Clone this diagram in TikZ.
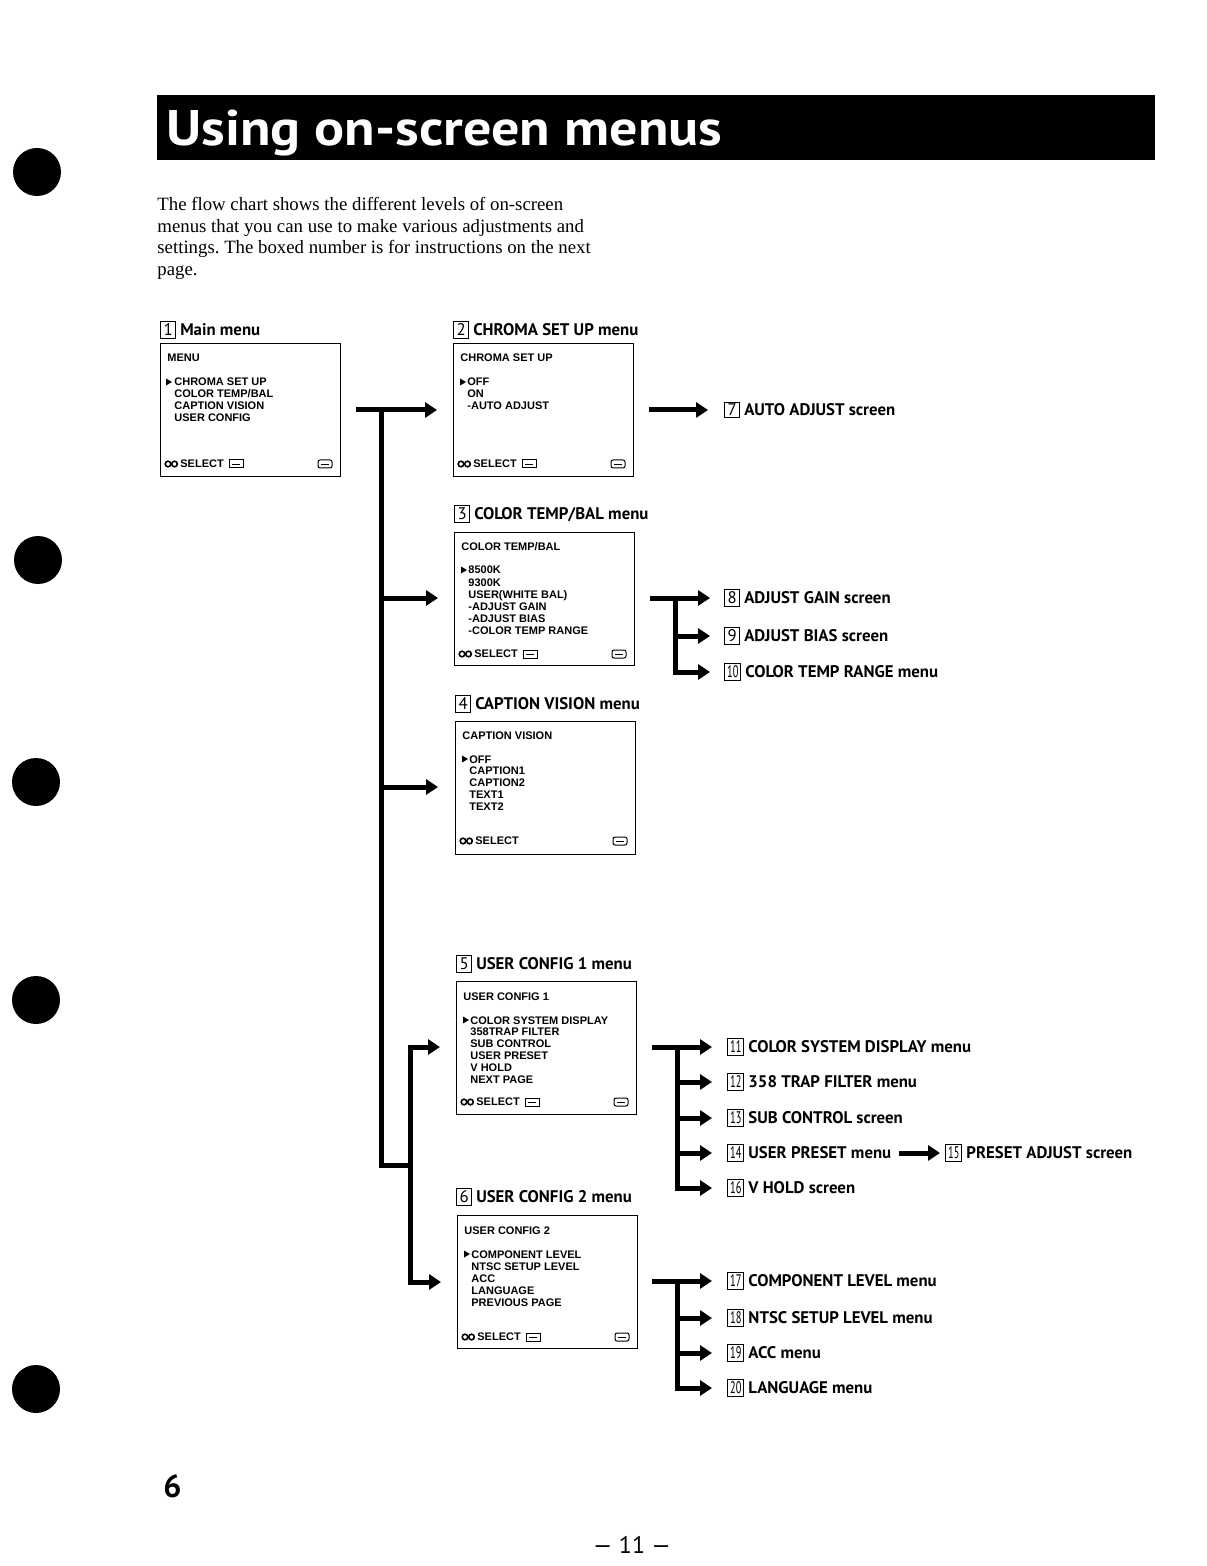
\documentclass[tikz,border=0pt]{standalone}
\usepackage{fontspec}
\usepackage{graphicx}
\setmainfont{Liberation Serif}
\newfontfamily\ptsans{PT Sans}
\newfontfamily\osdfont{Liberation Sans}
\usetikzlibrary{arrows.meta}
\newcommand{\bnum}[1]{{\setlength{\fboxsep}{0.8pt}\setlength{\fboxrule}{0.5pt}\fbox{\makebox[5.2pt][c]{\mdseries #1}}}}
\newcommand{\bnumw}[1]{{\setlength{\fboxsep}{0.8pt}\setlength{\fboxrule}{0.5pt}\fbox{\makebox[5.8pt][c]{\mdseries\scalebox{0.62}[1]{#1}}}}}
\begin{document}
\frenchspacing
\begin{tikzpicture}[x=0.5pt,y=-0.5pt,
  arr/.style={line width=2.5pt,-{Triangle[length=6pt,width=7.5pt]},line join=miter},
  trunk/.style={line width=2.5pt,line join=miter},
  lab/.style={inner sep=0pt,anchor=west,font=\ptsans\bfseries\fontsize{8.4}{9}\selectfont},
  menubox/.style={draw,line width=0.7pt,anchor=north west,minimum width=90pt,minimum height=66.5pt,inner sep=0pt},
  osd/.style={inner sep=0pt,anchor=base west,font=\osdfont\bfseries\fontsize{5.5}{6}\selectfont},
  icon/.style={line width=0.5pt}]
\fill[white] (0,0) rectangle (1206,1566);
\useasboundingbox (0,0) rectangle (1206,1566);
% binder holes
\foreach \hx/\hy in {37/172,38/560,36/782,36/1000,36/1389}
  \fill (\hx,\hy) circle[radius=24];
% title bar
\fill (157,95) rectangle (1155,160);
\node[anchor=base west,inner sep=0pt,text=white,font=\ptsans\bfseries\fontsize{25}{25}\selectfont] (title) at (166,146) {\scalebox{1.12}[1]{Using on-screen menus}};
% intro
\foreach \t [count=\i from 0] in {The flow chart shows the different levels of on-screen,menus that you can use to make various adjustments and,settings. The boxed number is for instructions on the next,page.}
  \node[anchor=base west,inner sep=0pt,font=\fontsize{9.4}{10}\selectfont] (intro\i) at (157,211+21.5*\i) {\t};
% section labels
\node[lab] (h1) at (160,330) {\bnum{1} Main menu};
\node[lab] (h2) at (453,330) {\bnum{2} CHROMA SET UP menu};
\node[lab] (h3) at (454,514) {\bnum{3} COLOR TEMP/BAL menu};
\node[lab] (h4) at (455,704) {\bnum{4} CAPTION VISION menu};
\node[lab] (h5) at (456,964) {\bnum{5} USER CONFIG 1 menu};
\node[lab] (h6) at (456,1197) {\bnum{6} USER CONFIG 2 menu};
% menu boxes
\node[menubox] (b1) at (160,343) {};
\node[menubox] (b2) at (453,343) {};
\node[menubox] (b3) at (454,532) {};
\node[menubox] (b4) at (455,721) {};
\node[menubox] (b5) at (456,981) {};
\node[menubox] (b6) at (457,1215) {};
% box contents
\node[osd] (b1t) at (167,362) {MENU};
\foreach \t [count=\i from 0] in {CHROMA SET UP,COLOR TEMP/BAL,CAPTION VISION,USER CONFIG}
  \node[osd] (b1i\i) at (174,386+12*\i) {\t};
\node[osd] (b2t) at (460,362) {CHROMA SET UP};
\foreach \t [count=\i from 0] in {OFF,ON,-AUTO ADJUST}
  \node[osd] (b2i\i) at (467,386+12*\i) {\t};
\node[osd] (b3t) at (461,550) {COLOR TEMP/BAL};
\foreach \t [count=\i from 0] in {8500K,9300K,USER(WHITE BAL),-ADJUST GAIN,-ADJUST BIAS,-COLOR TEMP RANGE}
  \node[osd] (b3i\i) at (468,574+12*\i) {\t};
\node[osd] (b4t) at (462,739) {CAPTION VISION};
\foreach \t [count=\i from 0] in {OFF,CAPTION1,CAPTION2,TEXT1,TEXT2}
  \node[osd] (b4i\i) at (469,763+11.8*\i) {\t};
\node[osd] (b5t) at (463,1000) {USER CONFIG 1};
\foreach \t [count=\i from 0] in {COLOR SYSTEM DISPLAY,358TRAP FILTER,SUB CONTROL,USER PRESET,V HOLD,NEXT PAGE}
  \node[osd] (b5i\i) at (470,1024+11.8*\i) {\t};
\node[osd] (b6t) at (464,1234) {USER CONFIG 2};
\foreach \t [count=\i from 0] in {COMPONENT LEVEL,NTSC SETUP LEVEL,ACC,LANGUAGE,PREVIOUS PAGE}
  \node[osd] (b6i\i) at (471,1258+12*\i) {\t};
% cursors
\foreach \cx/\cy in {166/382,460/382,461/570,462/759,463/1020,464/1254}
  \fill (\cx,\cy-3.5) -- (\cx+6,\cy) -- (\cx,\cy+3.5) -- cycle;
% footers
\foreach \px/\py/\en in {160/464/1,453/464/1,454/654/1,455/841/0,456/1102/1,457/1337/1}{
  \draw[line width=0.8pt] (\px+8,\py) circle[radius=2.8];
  \draw[line width=0.8pt] (\px+14.5,\py) circle[radius=2.8];
  \node[osd,anchor=west] (sel\px) at (\px+20,\py) {SELECT};
  \ifnum\en=1 \draw[icon] (\px+69,\py-4) rectangle (\px+83,\py+4);
    \draw[line width=0.4pt] (\px+72,\py) -- (\px+80,\py);\fi
  \draw[icon,rounded corners=1pt] (\px+158,\py-4) rectangle (\px+172,\py+4);
  \draw[line width=0.4pt] (\px+161,\py) -- (\px+169,\py);
}
% result labels
\node[lab] (l7) at (724,410) {\bnum{7} AUTO ADJUST screen};
\node[lab] (l8) at (724,598) {\bnum{8} ADJUST GAIN screen};
\node[lab] (l9) at (724,636) {\bnum{9} ADJUST BIAS screen};
\node[lab] (l10) at (724,672) {\bnumw{10} COLOR TEMP RANGE menu};
\node[lab] (l11) at (727,1047) {\bnumw{11} COLOR SYSTEM DISPLAY menu};
\node[lab] (l12) at (727,1082) {\bnumw{12} 358 TRAP FILTER menu};
\node[lab] (l13) at (727,1118) {\bnumw{13} SUB CONTROL screen};
\node[lab] (l14) at (727,1153) {\bnumw{14} USER PRESET menu};
\node[lab] (l15) at (945,1153) {\bnumw{15} PRESET ADJUST screen};
\node[lab] (l16) at (727,1188) {\bnumw{16} V HOLD screen};
\node[lab] (l17) at (727,1281) {\bnumw{17} COMPONENT LEVEL menu};
\node[lab] (l18) at (727,1318) {\bnumw{18} NTSC SETUP LEVEL menu};
\node[lab] (l19) at (727,1353) {\bnumw{19} ACC menu};
\node[lab] (l20) at (727,1388) {\bnumw{20} LANGUAGE menu};
% main trunk
\coordinate (t0) at (356,410);
\coordinate (t1) at (381,410);
\coordinate (t2) at (381,1165);
\coordinate (t3) at (410,1165);
\coordinate (t4) at (410,1047);
\coordinate (t5) at (410,1282);
\coordinate (t6) at (381,598);
\coordinate (t7) at (381,787);
\draw[arr,shorten >=8pt] (t0) -- (t0 -| b2.west);
\draw[trunk] (t1) -- (t2) -- (t3);
\draw[arr,shorten >=8pt] (t6) -- (t6 -| b3.west);
\draw[arr,shorten >=8.5pt] (t7) -- (t7 -| b4.west);
\draw[arr,shorten >=8pt] (t3) -- (t4) -- (t4 -| b5.west);
\draw[arr,shorten >=8pt] (t3) -- (t5) -- (t5 -| b6.west);
% chroma
\coordinate (a0) at (649,410);
\draw[arr,shorten >=8pt] (a0) -- (l7.west);
% color temp branch
\coordinate (c0) at (650,598);
\coordinate (c1) at (675,598);
\coordinate (c2) at (675,636);
\draw[arr,shorten >=7pt] (c0) -- (l8.west);
\draw[arr,shorten >=7pt] (c2) -- (l9.west);
\draw[arr,shorten >=7pt] (c1) -- (c1 |- l10.west) -- (l10.west);
% user config 1 branch
\coordinate (u0) at (652,1047);
\coordinate (u1) at (677,1047);
\coordinate (u2) at (677,1082);
\coordinate (u3) at (677,1118);
\coordinate (u4) at (677,1153);
\draw[arr,shorten >=7.5pt] (u0) -- (l11.west);
\draw[arr,shorten >=7.5pt] (u2) -- (l12.west);
\draw[arr,shorten >=7.5pt] (u3) -- (l13.west);
\draw[arr,shorten >=7.5pt] (u4) -- (l14.west);
\draw[arr,shorten >=7.5pt] (u1) -- (u1 |- l16.west) -- (l16.west);
\coordinate (p0) at (899,1153);
\draw[arr,shorten >=2.5pt] (p0) -- (l15.west);
% user config 2 branch
\coordinate (v0) at (652,1281);
\coordinate (v1) at (677,1281);
\coordinate (v2) at (677,1318);
\coordinate (v3) at (677,1353);
\draw[arr,shorten >=7.5pt] (v0) -- (l17.west);
\draw[arr,shorten >=7.5pt] (v2) -- (l18.west);
\draw[arr,shorten >=7.5pt] (v3) -- (l19.west);
\draw[arr,shorten >=7.5pt] (v1) -- (v1 |- l20.west) -- (l20.west);
% page numbers
\node[anchor=base west,inner sep=0pt,font=\ptsans\bfseries\fontsize{16}{16}\selectfont] (pg) at (163,1497) {6};
\node[inner sep=0pt,font=\ptsans\fontsize{12}{12}\selectfont] (pgc) at (632,1545) {— 11 —};
\end{tikzpicture}
\end{document}
